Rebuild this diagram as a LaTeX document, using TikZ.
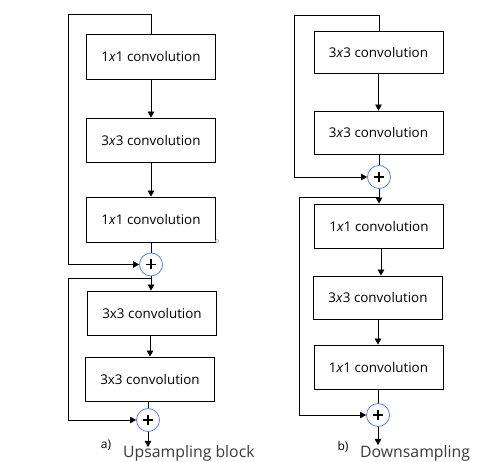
\documentclass[tikz,border=0pt]{standalone}
\usepackage{fontspec}
\setmainfont{Open Sans}
\usetikzlibrary{arrows.meta}
\definecolor{plusblue}{HTML}{5B84D6}
\definecolor{labgray}{HTML}{3A3A3A}
\tikzset{
  convbox/.style={draw=black, line width=0.8pt, minimum width=129pt, minimum height=44pt, inner sep=0pt,
    font=\fontsize{13.4}{15}\selectfont},
  sumnode/.style={circle, draw=plusblue, line width=0.8pt, minimum size=23pt, inner sep=0pt,
    path picture={\draw[line width=1.9pt,black] ([xshift=-5pt]path picture bounding box.center) -- ([xshift=5pt]path picture bounding box.center);
                  \draw[line width=1.9pt,black] ([yshift=-5pt]path picture bounding box.center) -- ([yshift=5pt]path picture bounding box.center);}},
  arr/.style={line width=0.8pt, -{Triangle[length=6pt,width=6.5pt]}},
  plain/.style={line width=0.8pt},
  biglabel/.style={anchor=base west, inner sep=0pt, text=labgray, font=\fontsize{15.8}{18}\selectfont},
  smalllabel/.style={inner sep=0pt, font=\fontsize{12}{14}\selectfont}
}
\begin{document}
\begin{tikzpicture}[x=1pt,y=-1pt]
\useasboundingbox[fill=white] (0,0) rectangle (496,462);

% ---------- left column ----------
\node[convbox, minimum height=45pt] (l1) at (151,56.5) {1\textit{x}1 convolution};
\node[convbox] (l2) at (151,140) {3\textit{x}3 convolution};
\node[convbox, minimum height=45pt] (l3) at (151,219.5) {1\textit{x}1 convolution};
\node[sumnode] (p1) at (151,264.5) {};
\node[convbox] (l4) at (152,313) {3x3 convolution};
\node[convbox] (l5) at (150,379) {3x3 convolution};
\node[sumnode] (p2) at (148,420) {};
\coordinate (s1) at (68,14);
\coordinate (s2) at (68,278);
\coordinate (o1) at (148,447);

\draw[arr] (l1.south) -- (l1.south |- l2.north);
\draw[arr] (l2.south) -- (l2.south |- l3.north);
\draw[plain] (l3.south) -- (p1.north);
\draw[arr] (l1.north) |- (s1) |- (p1.west);
\draw[arr] (p1.south) -- (p1.south |- l4.north);
\draw[plain] (p1.south |- s2) -- (s2);
\draw[arr] (s2) |- (p2.west);
\draw[arr] (l4.south -| l5.north) -- (l5.north);
\draw[plain] (l5.south -| p2.north) -- (p2.north);
\draw[arr] (p2.south) -- (o1);
\draw[gray!60, line width=0.5pt] (217,241) circle (1.8);

\node[smalllabel] (la) at (106,445) {a)};
\node[biglabel] (lt) at (123,457.5) {Upsampling block};

% ---------- right column ----------
\node[convbox, minimum height=42pt] (r1) at (378.5,52) {3\textit{x}3 convolution};
\node[convbox, minimum height=43pt] (r2) at (378.5,132.5) {3\textit{x}3 convolution};
\node[sumnode] (p3) at (379,177) {};
\node[convbox] (r3) at (379,226) {1\textit{x}1 convolution};
\node[convbox, minimum height=43pt] (r4) at (378,297.5) {3\textit{x}3 convolution};
\node[convbox] (r5) at (378.5,367) {1\textit{x}1 convolution};
\node[sumnode] (p4) at (378,415) {};
\coordinate (s3) at (294,15);
\coordinate (s4) at (299,197);
\coordinate (o2) at (378,445);

\draw[arr] (r1.south) -- (r1.south |- r2.north);
\draw[plain] (r2.south -| p3.north) -- (p3.north);
\draw[arr] (r1.north -| p3.north) |- (s3) |- (p3.west);
\draw[arr] (p3.south) -- (p3.south |- r3.north);
\draw[plain] (p3.south |- s4) -- (s4);
\draw[arr] (s4) |- (p4.west);
\draw[arr] ([xshift=2pt]r3.south) -- ([xshift=2pt]r3.south |- r4.north);
\draw[arr] (r4.south) -- (r4.south |- r5.north);
\draw[plain] (r5.south -| p4.north) -- (p4.north);
\draw[arr] (p4.south) -- (o2);

\node[smalllabel] (lb) at (343,447) {b)};
\node[biglabel] (rt) at (360,457.5) {Downsampling};
\end{tikzpicture}
\end{document}
